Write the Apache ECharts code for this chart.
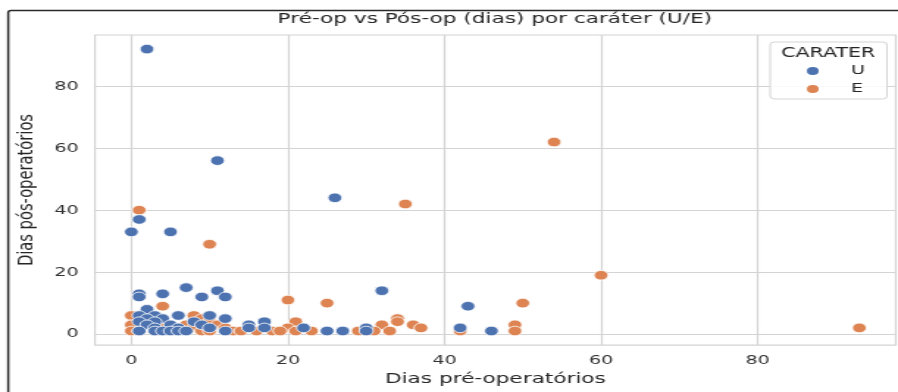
<!DOCTYPE html>
<html>
<head>
<meta charset="utf-8">
<script src="https://cdn.jsdelivr.net/npm/echarts@6/dist/echarts.min.js"></script>
<style>
html,body{margin:0;padding:0;background:#fff;overflow:hidden;width:898px;height:392px;}
#c{width:611px;height:392px;transform:scaleX(1.4697);transform-origin:0 0;}
</style>
</head>
<body>
<div id="c"></div>
<script>
// ---- data ----
const chartTitle = 'Pré-op vs Pós-op (dias) por caráter (U/E)';
const xName = 'Dias pré-operatórios';
const yName = 'Dias pós-operatórios';
const legendTitle = 'CARATER';
const categories = ['U', 'E'];
const xTicks = [0, 20, 40, 60, 80];
const yTicks = [0, 20, 40, 60, 80];
// [pre-op days, post-op days]
const seriesU = [[2,92],[11,56],[26,44],[1,37],[0,33],[5,33],[7,15],[11,14],[32,14],[1,13],[4,13],[1,12],[9,12],[12,12],[43,9],[2,8],[1,6],[3,6],[6,6],[10,6],[2,5],[4,5],[12,5],[1,4],[3,4],[8,4],[17,4],[2,3],[5,3],[9,3],[15,3],[3,2],[6,2],[10,2],[15,2],[17,2],[22,2],[30,2],[42,2],[1,1],[3,1],[4,1],[5,1],[6,1],[7,1],[12,1],[25,1],[27,1],[30,1],[46,1]];
const seriesE = [[54,62],[35,42],[1,40],[10,29],[60,19],[20,11],[25,10],[50,10],[4,9],[0,6],[8,6],[9,5],[34,5],[10,4],[21,4],[34,4],[0,3],[4,3],[7,3],[11,3],[32,3],[36,3],[49,3],[8,2],[12,2],[20,2],[37,2],[93,2],[0,1],[1,1],[3,1],[5,1],[9,1],[10,1],[13,1],[14,1],[16,1],[18,1],[19,1],[21,1],[23,1],[29,1],[31,1],[33,1],[42,1],[49,1]];

const FONT = '"DejaVu Sans", "Liberation Sans", sans-serif';
const TXT = '#262626';
const GRIDC = '#d4d4d4';
const BLUE = '#4C72B0', ORANGE = '#DD8452';

const chart = echarts.init(document.getElementById('c'), null, {renderer: 'canvas'});

const markLines = xTicks.map(v => ({xAxis: v})).concat(yTicks.map(v => ({yAxis: v})));

const option = {
  backgroundColor: '#fff',
  animation: false,
  textStyle: {fontFamily: FONT},
  grid: {
    left: 64.6, right: 1.5, top: 35, bottom: 45,
    show: true, backgroundColor: '#fff', borderColor: GRIDC, borderWidth: 1.2
  },
  graphic: [
    {type: 'rect', z: 100, silent: true,
     shape: {x: 5.6, y: 10.5, width: 800, height: 500, r: 2},
     style: {fill: 'none', stroke: '#2a2a2a', lineWidth: 1.5}},
    {type: 'text', z: 100, x: 336.7, y: 19.5,
     style: {text: chartTitle, fill: TXT, font: '14.7px ' + FONT, align: 'center', verticalAlign: 'middle'}},
    {type: 'text', z: 100, x: 563.5, y: 53,
     style: {text: legendTitle, fill: TXT, font: '14px ' + FONT, align: 'center', verticalAlign: 'middle'}}
  ],
  legend: {
    data: categories,
    orient: 'vertical',
    left: 524, top: 42,
    padding: [22, 15, 3, 23],
    itemWidth: 42, itemHeight: 10, itemGap: 4,
    icon: 'circle',
    backgroundColor: 'rgba(255,255,255,0.85)',
    borderColor: '#d5d5d5', borderWidth: 1, borderRadius: 3,
    textStyle: {color: TXT, fontSize: 13, fontFamily: FONT, lineHeight: 14}
  },
  xAxis: {
    type: 'value', min: -4.65, max: 97.65,
    name: xName, nameLocation: 'middle', nameGap: 26,
    nameTextStyle: {color: TXT, fontSize: 14.7, fontFamily: FONT},
    axisLine: {show: false}, axisTick: {show: false, customValues: xTicks},
    splitLine: {show: false},
    axisLabel: {customValues: xTicks, color: '#333', fontSize: 13, fontFamily: FONT, margin: 9}
  },
  yAxis: {
    type: 'value', min: -3.55, max: 96.55,
    name: yName, nameLocation: 'middle', nameGap: 36,
    nameTextStyle: {color: TXT, fontSize: 14.7, fontFamily: FONT},
    axisLine: {show: false}, axisTick: {show: false, customValues: yTicks},
    splitLine: {show: false},
    axisLabel: {customValues: yTicks, color: '#333', fontSize: 13, fontFamily: FONT, margin: 11}
  },
  series: [
    {
      name: 'E', type: 'scatter', data: seriesE, symbol: 'circle', symbolSize: 9.6, z: 2,
      itemStyle: {color: ORANGE, borderColor: '#fff', borderWidth: 0.8, opacity: 1},
      markLine: {
        silent: true, z: 1, symbol: ['none', 'none'], label: {show: false},
        lineStyle: {color: GRIDC, type: 'solid', width: 1.2},
        emphasis: {disabled: true},
        data: markLines
      }
    },
    {
      name: 'U', type: 'scatter', data: seriesU, symbol: 'circle', symbolSize: 9.6, z: 3,
      itemStyle: {color: BLUE, borderColor: '#fff', borderWidth: 0.8, opacity: 1}
    }
  ]
};
chart.setOption(option);
</script>
</body>
</html>
